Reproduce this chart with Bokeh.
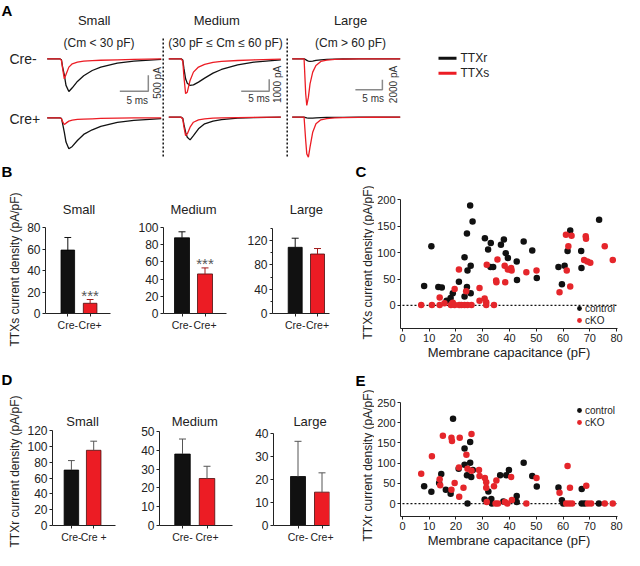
import numpy as np
from bokeh.plotting import figure
from bokeh.layouts import column, row
from bokeh.models import Range1d, FixedTicker, Legend, LegendItem
from bokeh.core.properties import value
from bokeh.embed import file_html
from bokeh.resources import INLINE

FONT = "Liberation Sans"
BLACK = "#111111"
RED = "#ec1c24"
SC_RED = "#e5262b"
INK = "#222222"

# ---------------- Panel A: example current traces (pA vs ms) ----------------
T_MS = [0, 2.2, 2.5, 2.7, 3.0, 3.3, 3.8, 4.4, 5.3, 6.4, 7.9, 9.4, 12.3, 15.2, 20.0]
SMALL_CRENEG_TTXR = [0, 0, -30, -250, -500, -830, -1020, -906, -708, -531, -365, -260, -135, -73, -15]
SMALL_CRENEG_TTXS = [0, 0, -50, -300, -625, -490, -260, -156, -104, -73, -55, -45, -31, -18, -5]
SMALL_CREPOS_TTXR = [0, 0, -20, -180, -450, -760, -970, -895, -710, -520, -375, -270, -146, -83, -25]
SMALL_CREPOS_TTXS = [0, 0, -30, -120, -210, -167, -104, -73, -52, -42, -31, -21, -10, -5, 0]
MEDIUM_CRENEG_TTXR = [0, 0, -100, -800, -1670, -2030, -2220, -2170, -1940, -1610, -1190, -890, -500, -280, -83]
MEDIUM_CRENEG_TTXS = [0, 0, -200, -1500, -2900, -2780, -1800, -1110, -690, -470, -305, -220, -140, -83, -28]
MEDIUM_CREPOS_TTXR = [0, 0, -100, -600, -1250, -1670, -1890, -1530, -970, -555, -333, -195, -83, -28, 0]
MEDIUM_CREPOS_TTXS = [0, 0, -150, -800, -1530, -1390, -830, -420, -220, -140, -83, -56, -28, -14, 0]
LARGE_CRENEG_TTXR = [0, 0, -150, -330, -450, -530, -470, -330, -200, -130, -70, -40, 0, 0, 0]
LARGE_CRENEG_TTXS = [0, 0, -7000, -9330, -7670, -5000, -2670, -1330, -530, -270, -130, -70, -30, -10, 0]
LARGE_CREPOS_TTXR = [0, 0, -80, -150, -200, -200, -170, -120, -80, -50, -30, -15, 0, 0, 0]
LARGE_CREPOS_TTXS = [0, 0, -4670, -7330, -8000, -6000, -3000, -1330, -530, -270, -130, -70, -30, -10, 0]

SIZE_NAMES = ["Small", "Medium", "Large"]
SIZE_RANGES = ["(Cm < 30 pF)", "(30 pF \u2264 Cm \u2264 60 pF)", "(Cm > 60 pF)"]
SCALE_I = [500, 1000, 2000]          # pA scale bars
SCALE_T = 5                           # ms scale bar
ROW_NAMES = ["Cre-", "Cre+"]
TRACE_NAMES = ["TTXr", "TTXs"]

# ---------------- Panels B / D: bar charts ----------------
GROUPS = ["Cre-", "Cre+"]
GROUPS_D_SMALL = ["Cre-", "Cre +"]
TTXS_SMALL_MEAN = [59, 9.5];    TTXS_SMALL_SEM = [11.7, 3.5]
TTXS_MEDIUM_MEAN = [88, 46];    TTXS_MEDIUM_SEM = [7, 7]
TTXS_LARGE_MEAN = [109, 98];    TTXS_LARGE_SEM = [15, 9]
TTXR_SMALL_MEAN = [70, 95];     TTXR_SMALL_SEM = [12, 11.5]
TTXR_MEDIUM_MEAN = [38, 25];    TTXR_MEDIUM_SEM = [8, 6.5]
TTXR_LARGE_MEAN = [21.3, 14.5]; TTXR_LARGE_SEM = [15.3, 8.4]

# ---------------- Panels C / E: scatter (Cm pF vs density pA/pF) ----------------
C_CTRL_X = [8.1, 10.8, 13.4, 14.7, 16.5, 18.0, 18.8, 21.1, 23.2, 24.1, 24.3, 24.1, 23.2, 25.3, 26.2, 25.5, 25.5,
            30.8, 32.0, 33.0, 32.9, 33.9, 36.8, 37.9, 38.6, 39.4, 42.7, 42.8, 45.3, 48.5, 50.2, 58.3, 59.6,
            60.6, 61.7, 62.7, 66.8, 66.9, 73.5]
C_CTRL_Y = [37, 112, 35, 34, 9, 14, 23, 45, 91, 136, 66, 35, 17, 189, 159, 75, 23,
            127, 106, 118, 73, 73, 115, 125, 99, 90, 83, 48, 121, 104, 52, 73, 40,
            75, 103, 142, 103, 71, 162]
C_CKO_X = [7.0, 11.0, 13.9, 13.9, 15.7, 18.1, 18.8, 19.5, 21.2, 22.0, 23.2, 24.3, 25.8, 19.5, 21.1, 23.8,
           28.8, 28.8, 30.7, 31.3, 31.3, 34.2, 31.5, 35.5, 35.0, 35.1, 38.4, 38.2, 39.4, 40.6, 40.8, 46.3,
           50.1, 58.7, 61.1, 62.0, 61.4, 62.7, 63.2, 68.5, 68.6, 67.9, 69.1, 70.2, 75.6, 78.6]
C_CKO_Y = [1, 1, 1, 15, 4, 1, 5, 1, 1, 1, 1, 1, 1, 31, 68, 27,
           33, 9, 13, 6, 1, 1, 77, 87, 47, 44, 44, 75, 68, 71, 66, 63,
           66, 25, 134, 112, 66, 36, 132, 131, 126, 86, 83, 81, 112, 86]
E_CTRL_X = [8.1, 10.8, 14.5, 13.7, 16.2, 18.0, 18.9, 21.0, 23.2, 23.2, 24.1, 24.3, 25.3, 25.3, 25.7, 26.3,
            30.7, 32.1, 33.2, 33.4, 36.5, 37.7, 38.8, 39.8, 42.7, 42.7, 45.3, 48.5, 50.2, 58.3, 59.6, 60.1,
            67.0, 67.0, 68.1, 73.4]
E_CTRL_Y = [43, 29, 73, 51, 34, 24, 210, 86, 136, 96, 70, 0, 152, 101, 66, 83,
            10, 30, 11, 0, 70, 5, 70, 83, 19, 4, 101, 68, 42, 40, 8, 0,
            36, 0, 0, 0]
E_CKO_X = [7.0, 11.0, 13.9, 14.1, 15.1, 18.3, 18.5, 18.3, 19.5, 21.1, 21.2, 21.4, 22.8, 23.9, 24.3, 25.8,
           25.8, 28.6, 28.8, 30.8, 31.3, 31.3, 31.5, 34.2, 35.1, 34.8, 35.7, 38.3, 39.2, 40.6, 40.9, 46.3,
           50.1, 58.7, 61.2, 61.7, 62.6, 62.3, 63.4, 68.7, 69.3, 70.5, 75.6, 78.6]
E_CKO_Y = [74, 117, 60, 45, 168, 163, 155, 34, 51, 89, 17, 163, 39, 121, 86, 172,
           81, 83, 68, 63, 53, 39, 4, 43, 57, 0, 0, 4, 0, 66, 9, 0,
           63, 27, 0, 93, 39, 0, 0, 44, 0, 0, 0, 0]
CM_TICKS = [0, 10, 20, 30, 40, 50, 60, 70, 80]
LEGEND_NAMES = ["control", "cKO"]
YLABEL_S = "TTXs current density (pA/pF)"
YLABEL_R = "TTXr current density (pA/pF)"
XLABEL = "Membrane capacitance (pF)"


def make_fig(w, h, left, right, top, bottom, xr, yr):
    p = figure(width=w, height=h, x_range=Range1d(*xr), y_range=Range1d(*yr),
               toolbar_location=None, output_backend="svg",
               min_border_left=left, min_border_right=right,
               min_border_top=top, min_border_bottom=bottom)
    p.grid.visible = False
    p.outline_line_color = None
    return p


def canvas_fig(w, h):
    """A figure whose data units are its own pixels (origin top-left); used for free text."""
    p = figure(width=w, height=h, x_range=Range1d(0, w), y_range=Range1d(h, 0),
               toolbar_location=None, output_backend="svg", min_border=0,
               x_axis_location=None, y_axis_location=None)
    p.grid.visible = False
    p.outline_line_color = None
    return p


def ptext(p, x, y, text, size="13px", align="center", baseline="middle", bold=False, color=INK, angle=0.0):
    p.text(x=[x], y=[y], text=[text], text_align=align, text_baseline=baseline, angle=angle,
           text_font=value(FONT), text_font_size=size, text_color=color,
           text_font_style="bold" if bold else "normal")


def style_axis(ax, size="12px"):
    ax.axis_line_color = INK
    ax.axis_line_width = 1
    ax.major_tick_line_color = INK
    ax.major_tick_out = 3
    ax.major_tick_in = 0
    ax.minor_tick_line_color = None
    ax.major_label_text_font = FONT
    ax.major_label_text_font_size = size
    ax.major_label_text_color = INK
    ax.major_label_standoff = 2
    ax.axis_label_text_font = FONT
    ax.axis_label_text_font_style = "normal"
    ax.axis_label_text_color = INK


# ======================= Panel A =======================
WA, HA = 624, 160
pa = canvas_fig(WA, HA)

# column geometry: (t=0 pixel, px per ms, px per pA, Cre- baseline px, Cre+ baseline px)
cols = [(46.7, 5.7, 0.032, 58.3, 117.3), (168.3, 5.6, 0.012, 58.3, 116.7), (291.7, 5.4, 0.005, 58.3, 116.7)]
xr_extra, yr_extra = {}, {}
for k, (t0, ppm, s, b1, b2) in enumerate(cols):
    xr_extra["t%d" % k] = Range1d(-t0 / ppm, (WA - t0) / ppm)
    yr_extra["n%d" % k] = Range1d(b1 / s - HA / s, b1 / s)
    yr_extra["p%d" % k] = Range1d(b2 / s - HA / s, b2 / s)
pa.extra_x_ranges = xr_extra
pa.extra_y_ranges = yr_extra

traces = [
    (SMALL_CRENEG_TTXR, SMALL_CRENEG_TTXS, SMALL_CREPOS_TTXR, SMALL_CREPOS_TTXS),
    (MEDIUM_CRENEG_TTXR, MEDIUM_CRENEG_TTXS, MEDIUM_CREPOS_TTXR, MEDIUM_CREPOS_TTXS),
    (LARGE_CRENEG_TTXR, LARGE_CRENEG_TTXS, LARGE_CREPOS_TTXR, LARGE_CREPOS_TTXS),
]
for k, (nr, ns, pr, ps) in enumerate(traces):
    for yname, r_, s_ in (("n%d" % k, nr, ns), ("p%d" % k, pr, ps)):
        pa.line(T_MS, r_, x_range_name="t%d" % k, y_range_name=yname, line_color=BLACK, line_width=1.3)
        pa.line(T_MS, s_, x_range_name="t%d" % k, y_range_name=yname, line_color=RED, line_width=1.3)

# scale bars (ms / pA, in each column's own units)
bar_pos = [(12.74, -1012, 15.8, -1294, 19.35, -756),
           (12.93, -2700, 16.1, -3333, 19.4, -2140),
           (11.70, -6200, 15.0, -8000, 18.7, -5140)]
for k, (t_a, i_a, tx, iy, tv, iv) in enumerate(bar_pos):
    pa.line([t_a, t_a + SCALE_T, t_a + SCALE_T], [i_a, i_a, i_a + SCALE_I[k]],
            x_range_name="t%d" % k, y_range_name="n%d" % k, line_color="#8a8a8a", line_width=1.5)
    pa.text(x=[tx], y=[iy], text=["%d ms" % SCALE_T], x_range_name="t%d" % k, y_range_name="n%d" % k,
            text_align="center", text_baseline="middle", text_font=value(FONT),
            text_font_size="10px", text_color="#333333")
    pa.text(x=[tv], y=[iv], text=["%d pA" % SCALE_I[k]], x_range_name="t%d" % k, y_range_name="n%d" % k,
            angle=np.pi / 2, text_align="center", text_baseline="middle", text_font=value(FONT),
            text_font_size="10px", text_color="#333333")

for sx in (162.7, 286.7):
    pa.line([sx, sx], [38, 158], line_color=BLACK, line_width=1.5, line_dash="2 2")

for cxp, name in zip((93.7, 216.3, 350.0), SIZE_NAMES):
    ptext(pa, cxp, 20, name, size="13px")
for cxp, name in zip((98.5, 225.0, 350.0), SIZE_RANGES):
    ptext(pa, cxp, 42, name, size="12px")
for yy, name in zip((58.3, 118.3), ROW_NAMES):
    ptext(pa, 9, yy, name, size="14px", align="left")
ptext(pa, 1, 1, "A", size="15px", align="left", baseline="top", bold=True, color="#000000")
for yy, col, name in ((57.7, BLACK, TRACE_NAMES[0]), (72.7, RED, TRACE_NAMES[1])):
    pa.line([438, 456], [yy, yy], line_color=col, line_width=3)
    ptext(pa, 460, yy, name, size="12px", align="left")


# ======================= Bar panels =======================
def bar_panel(cx, cy, w, h, left, right, frame_top, axis_top, axis_bot, centers, ymax, yticks, cats,
              means, sems, err_colors, title, title_y, bar_px, minor=None, stars_y=None):
    top = frame_top - cy
    bottom = cy + h - axis_bot
    fx0, fx1 = cx + left, cx + w - right
    ppx = centers[1] - centers[0]
    x0 = 1 - (centers[0] - fx0) / ppx
    xr = (x0, x0 + (fx1 - fx0) / ppx)
    ppy = (axis_bot - axis_top) / ymax
    ytop = ymax + (axis_top - frame_top) / ppy
    p = make_fig(w, h, left, right, top, bottom, xr, (0, ytop))
    xs = [1, 2]
    p.vbar(x=xs, top=means, width=bar_px / ppx, bottom=0, fill_color=[BLACK, RED],
           line_color=["#000000", "#4a0c0c"], line_width=0.8)
    tops = [m + e for m, e in zip(means, sems)]
    cw = 3.5 / ppx
    p.segment(x0=xs, y0=means, x1=xs, y1=tops, line_color=err_colors, line_width=1)
    p.segment(x0=[x - cw for x in xs], y0=tops, x1=[x + cw for x in xs], y1=tops,
              line_color=err_colors, line_width=1)
    xa, ya = p.xaxis[0], p.yaxis[0]
    style_axis(xa, "10.5px")
    style_axis(ya, "12px")
    xa.ticker = FixedTicker(ticks=xs)
    xa.major_label_overrides = {1: cats[0], 2: cats[1]}
    ya.ticker = FixedTicker(ticks=yticks, minor_ticks=minor or [])
    ya.bounds = (0, ymax)
    if minor:
        ya.minor_tick_line_color = INK
        ya.minor_tick_out = 2
        ya.minor_tick_in = 0
    p.text(x=[1.5], y=[(axis_bot - title_y) / ppy], text=[title], text_align="center",
           text_baseline="middle", text_font=value(FONT), text_font_size="13px", text_color=INK)
    if stars_y is not None:
        p.text(x=[2], y=[(axis_bot - stars_y) / ppy], text=["***"], text_align="center",
               text_baseline="alphabetic", text_font=value(FONT), text_font_size="15px",
               text_color="#555555")
    return p


Y2, H2 = 160, 205
Y3, H3 = 365, 185
ERR_B = [BLACK, "#a01818"]
ERR_D = ["#555555", "#555555"]

bs = bar_panel(24, Y2, 104, H2, 19, 18, 195, 227, 313, (66, 89), 80, [0, 20, 40, 60, 80],
               GROUPS, TTXS_SMALL_MEAN, TTXS_SMALL_SEM, ERR_B, SIZE_NAMES[0], 209, 14, stars_y=295)
bm = bar_panel(128, Y2, 109, H2, 35, 11, 195, 227, 313, (181.5, 204.5), 100, [0, 20, 40, 60, 80, 100],
               GROUPS, TTXS_MEDIUM_MEAN, TTXS_MEDIUM_SEM, ERR_B, SIZE_NAMES[1], 209, 15, stars_y=263)
bl = bar_panel(237, Y2, 99, H2, 35, 7, 195, 228, 313, (294.7, 317), 140, [0, 40, 80, 120],
               GROUPS, TTXS_LARGE_MEAN, TTXS_LARGE_SEM, ERR_B, SIZE_NAMES[2], 209, 14,
               minor=[20, 60, 100, 140])

ds = bar_panel(24, Y3, 104, H3, 26, 13, 405, 430, 525, (69.5, 92.5), 120, [0, 20, 40, 60, 80, 100, 120],
               GROUPS_D_SMALL, TTXR_SMALL_MEAN, TTXR_SMALL_SEM, ERR_D, SIZE_NAMES[0], 421, 15)
dm = bar_panel(128, Y3, 109, H3, 31, 5, 405, 431, 525, (182, 206.5), 50, [0, 10, 20, 30, 40, 50],
               GROUPS, TTXR_MEDIUM_MEAN, TTXR_MEDIUM_SEM, ERR_D, SIZE_NAMES[1], 421, 15.5)
dl = bar_panel(237, Y3, 99, H3, 36, 7, 405, 433, 525, (297.5, 321.5), 40, [0, 10, 20, 30, 40],
               GROUPS, TTXR_LARGE_MEAN, TTXR_LARGE_SEM, ERR_D, SIZE_NAMES[2], 421, 15)

# text strips spanning rows B/D and C/E (panel letters and y-axis titles)
HS = H2 + H3
sl = canvas_fig(24, HS)
ptext(sl, 1, 171 - Y2, "B", size="15px", align="left", bold=True, color="#000000")
ptext(sl, 14, 269 - Y2, YLABEL_S, size="12px", angle=np.pi / 2)
ptext(sl, 1, 379 - Y2, "D", size="15px", align="left", bold=True, color="#000000")
ptext(sl, 14, 471 - Y2, YLABEL_R, size="12px", angle=np.pi / 2)

sm = canvas_fig(38, HS)
ptext(sm, 19, 171 - Y2, "C", size="15px", align="left", bold=True, color="#000000")
ptext(sm, 31, 262 - Y2, YLABEL_S, size="12px", angle=np.pi / 2)
ptext(sm, 19, 380 - Y2, "E", size="15px", align="left", bold=True, color="#000000")
ptext(sm, 31, 465 - Y2, YLABEL_R, size="12px", angle=np.pi / 2)


# ======================= Scatter panels =======================
def scatter_panel(w, h, left, right, top, bottom, xr, yr, yticks, xs_c, ys_c, xs_k, ys_k, legend_loc):
    p = make_fig(w, h, left, right, top, bottom, xr, yr)
    p.line([0, 80], [0, 0], line_color=BLACK, line_width=1.2, line_dash="2 2")
    rc = p.scatter(xs_c, ys_c, size=6.5, fill_color=BLACK, line_color=None)
    rk = p.scatter(xs_k, ys_k, size=6.5, fill_color=SC_RED, line_color=None)
    xa, ya = p.xaxis[0], p.yaxis[0]
    style_axis(xa, "11px")
    style_axis(ya, "11px")
    xa.ticker = FixedTicker(ticks=CM_TICKS)
    ya.ticker = FixedTicker(ticks=yticks)
    xa.axis_label = XLABEL
    xa.axis_label_text_font_size = "13px"
    xa.axis_label_standoff = 0
    leg = Legend(items=[LegendItem(label=LEGEND_NAMES[0], renderers=[rc]),
                        LegendItem(label=LEGEND_NAMES[1], renderers=[rk])],
                 location=legend_loc, orientation="vertical", border_line_color=None,
                 background_fill_alpha=0, padding=0, margin=2, spacing=0,
                 glyph_width=12, glyph_height=12, label_height=10, label_standoff=0,
                 label_text_font=FONT, label_text_font_size="10px", label_text_color=INK)
    p.add_layout(leg)
    return p


pc = scatter_panel(250, H2, 24, 7, 39, 37, (-0.74, 80.37), (-43.6, 200.5), [0, 50, 100, 150, 200],
                   C_CTRL_X, C_CTRL_Y, C_CKO_X, C_CKO_Y, "bottom_right")
pe = scatter_panel(250, H3, 24, 7, 37, 34, (-0.74, 80.37), (-32, 250), [0, 50, 100, 150, 200, 250],
                   E_CTRL_X, E_CTRL_Y, E_CKO_X, E_CKO_Y, "top_right")

lower = row(sl, column(row(bs, bm, bl), row(ds, dm, dl)), sm, column(pc, pe))
layout = column(pa, lower)
open("out.html", "w").write(file_html(layout, INLINE))
